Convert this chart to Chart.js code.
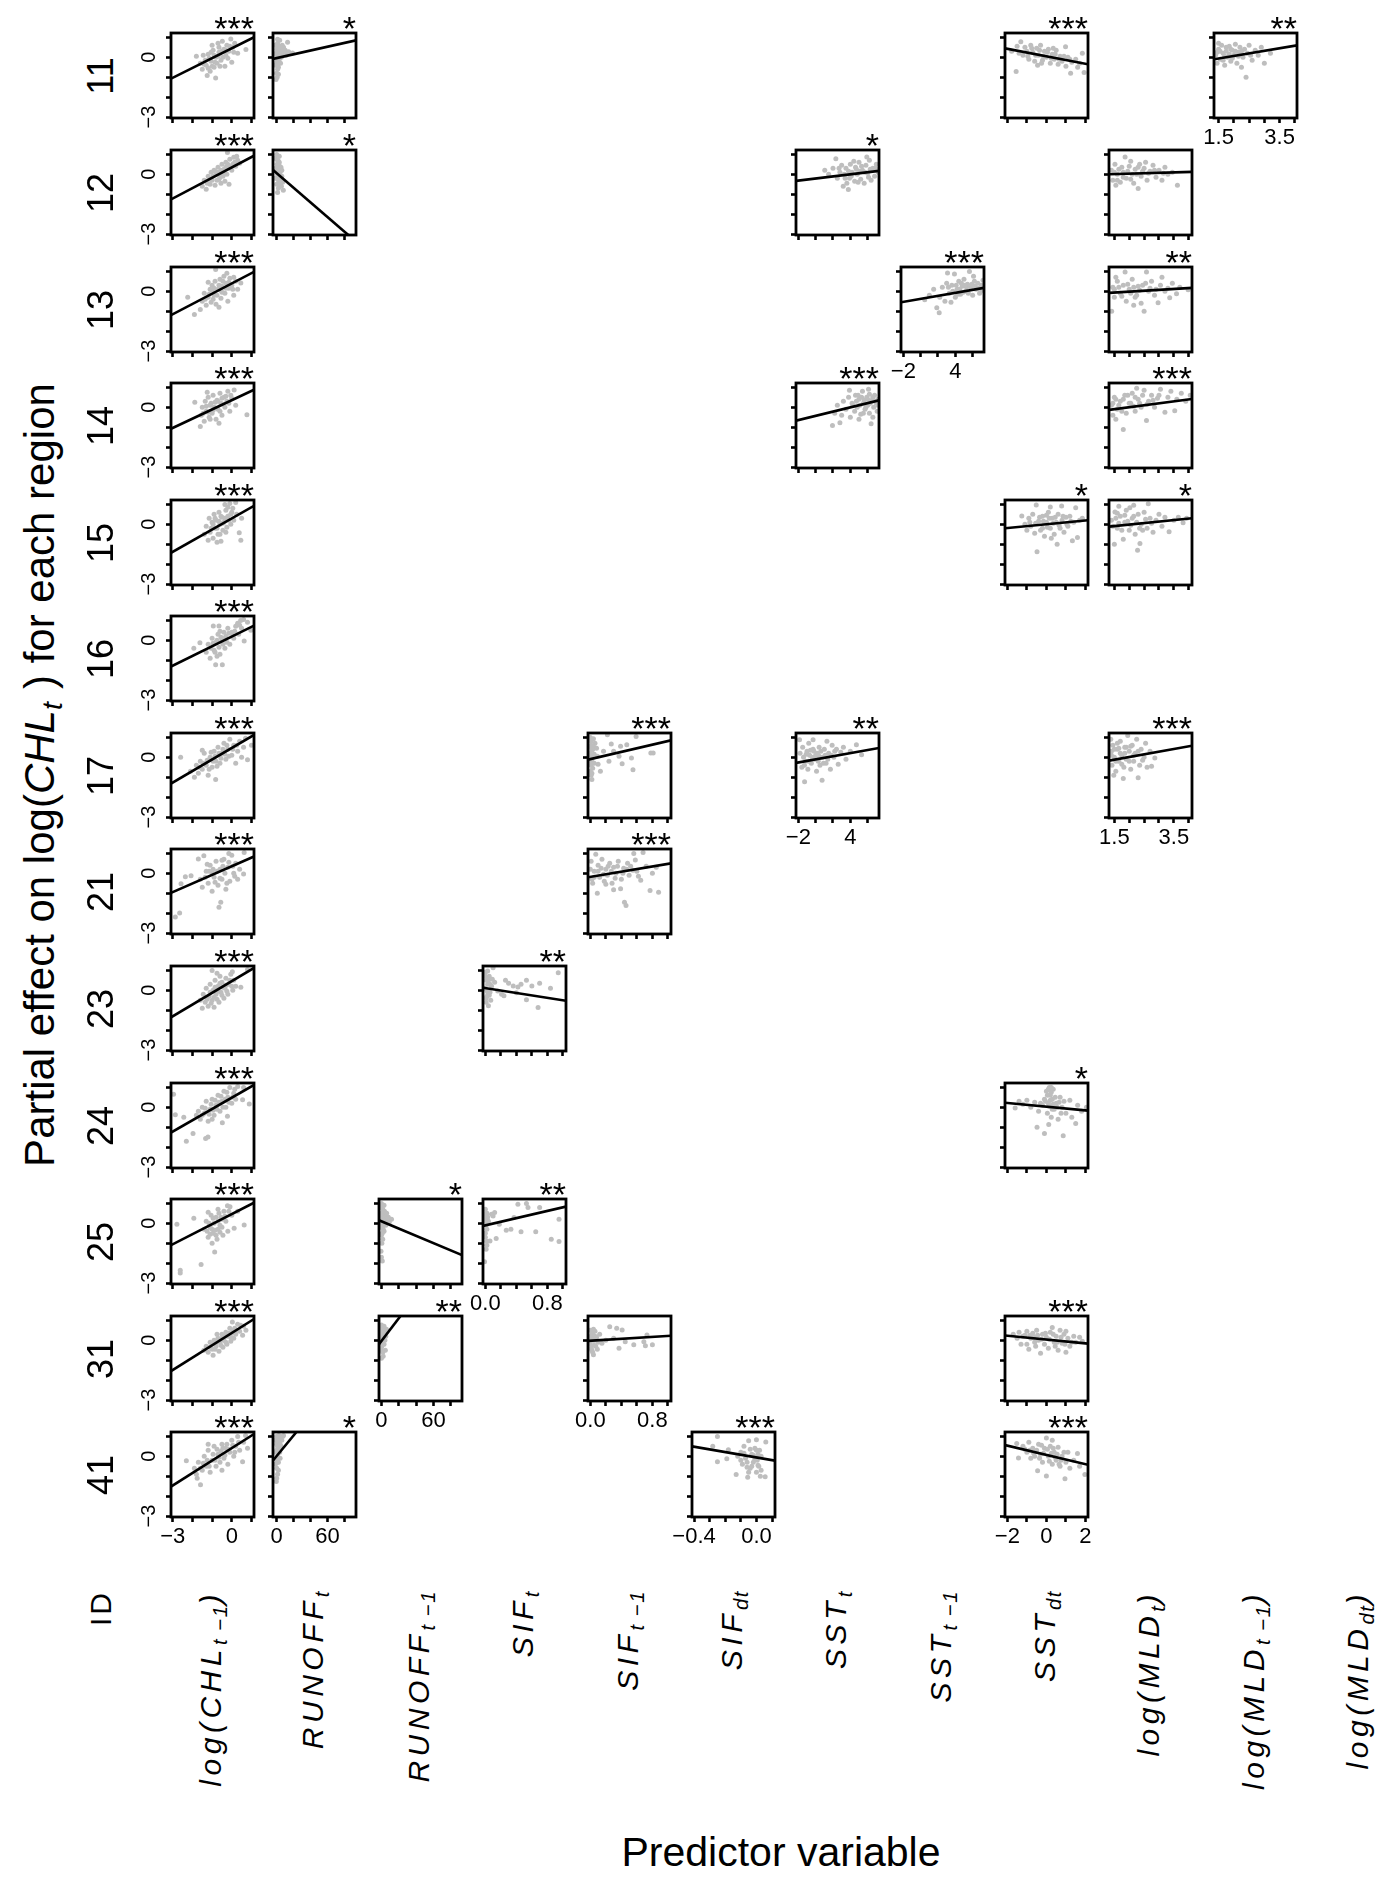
<!DOCTYPE html>
<html>
<head>
<meta charset="utf-8">
<script src="https://cdn.jsdelivr.net/npm/chart.js@4.4.0/dist/chart.umd.min.js"></script>
<style>
  body { margin: 0; background: #fff; }
  #fig { position: relative; width: 1394px; height: 1889px; overflow: hidden;
         font-family: "Liberation Sans", Arial, Helvetica, sans-serif; color: #000; }
  .panel { position: absolute; }
  .lab { position: absolute; white-space: nowrap; line-height: 1; }
  .lab sub { font-size: 68%; vertical-align: -0.28em; letter-spacing: 1.5px; }
</style>
</head>
<body>
<div id="fig"></div>
<script>
// ---------------- data ----------------
const regions = ['11', '12', '13', '14', '15', '16', '17', '21', '23', '24', '25', '31', '41'];
const predictors = [
  'log(CHL<sub>t −1</sub>)', 'RUNOFF<sub>t</sub>', 'RUNOFF<sub>t −1</sub>',
  'SIF<sub>t</sub>', 'SIF<sub>t −1</sub>', 'SIF<sub>dt</sub>',
  'SST<sub>t</sub>', 'SST<sub>t −1</sub>', 'SST<sub>dt</sub>',
  'log(MLD<sub>t</sub>)', 'log(MLD<sub>t −1</sub>)', 'log(MLD<sub>dt</sub>)'
];

const yRange = [-3.05, 1.22];
const yTickValues = [-3, -2, -1, 0, 1];
const yTickText = ['−3', '', '', '0', ''];

const xRange = [[-3.09, 1.13], [-4.4, 93.6], [-2.8, 92.8], [-0.03, 1.04], [-0.03, 1.04], [-0.413, 0.119],
  [-2.27, 7.31], [-2.27, 7.31], [-2.12, 2.13], [1.32, 4.11], [1.35, 4.07]];
const xTickValues = [[-3, -2, -1, 0, 1], [0, 20, 40, 60, 80], [0, 20, 40, 60, 80],
  [0, 0.2, 0.4, 0.6, 0.8, 1], [0, 0.2, 0.4, 0.6, 0.8, 1], [-0.4, -0.3, -0.2, -0.1, 0, 0.1],
  [-2, 0, 2, 4, 6], [-2, 0, 2, 4, 6], [-2, -1, 0, 1, 2],
  [1.5, 2, 2.5, 3, 3.5, 4], [1.5, 2, 2.5, 3, 3.5, 4]];
const xTickText = [['−3', '', '', '0', ''], ['0', '', '', '60', ''], ['0', '', '', '60', ''],
  ['0.0', '', '', '', '0.8', ''], ['0.0', '', '', '', '0.8', ''], ['−0.4', '', '', '', '0.0', ''],
  ['−2', '', '', '4', ''], ['−2', '', '', '4', ''], ['−2', '', '0', '', '2'],
  ['1.5', '', '', '', '3.5', ''], ['1.5', '', '', '', '3.5', '']];

const panelRegion = ['11','11','11','11','12','12','12','12','13','13','13','14','14','14','15','15','15','16',
  '17','17','17','17','21','21','23','23','24','24','25','25','25','31','31','31','31','41','41','41','41'];
const panelPredictor = [1,2,9,11, 1,2,7,10, 1,8,10, 1,7,10, 1,9,10, 1, 1,5,7,10, 1,5, 1,4, 1,9, 1,3,4, 1,3,5,9, 1,2,6,9];
const panelStars = ['***','*','***','**', '***','*','*','', '***','***','**', '***','***','***', '***','*','*', '***',
  '***','***','**','***', '***','***', '***','**', '***','*', '***','*','**', '***','**','','***', '***','*','***','***'];
// fitted line, [x0, y0, x1, y1]
const panelFit = [
  [-3.09,-1.07,1.13,1.01], [-4.4,-0.08,93.6,0.85], [-2.12,0.45,2.13,-0.35], [1.35,-0.1,4.07,0.6],
  [-3.09,-1.26,1.13,0.93], [-4.4,0.21,84.5,-3.05], [-2.27,-0.33,7.31,0.17], [1.32,0.0,4.11,0.12],
  [-3.09,-1.2,1.13,0.98], [-2.27,-0.55,7.31,0.17], [1.32,-0.08,4.11,0.17],
  [-3.09,-1.08,1.13,0.88], [-2.27,-0.67,7.31,0.35], [1.32,-0.13,4.11,0.42],
  [-3.09,-1.43,1.13,0.93], [-2.12,-0.2,2.13,0.2], [1.32,-0.12,4.11,0.3],
  [-3.09,-1.32,1.13,0.74],
  [-3.09,-1.32,1.13,1.12], [-0.03,-0.12,1.04,0.85], [-2.27,-0.28,7.31,0.47], [1.32,-0.17,4.11,0.58],
  [-3.09,-0.98,1.13,0.84], [-0.03,-0.2,1.04,0.5],
  [-3.09,-1.36,1.13,1.12], [-0.03,0.13,1.04,-0.53],
  [-3.09,-1.27,1.13,1.12], [-2.12,0.23,2.13,-0.17],
  [-3.09,-1.1,1.13,1.03], [-2.8,0.15,92.8,-1.6], [-0.03,-0.13,1.04,0.84],
  [-3.09,-1.55,1.13,1.07], [-2.8,-0.2,22,1.22], [-0.03,-0.03,1.04,0.23], [-2.12,0.24,2.13,-0.17],
  [-3.09,-1.52,1.13,1.12], [-4.4,-0.21,23.3,1.22], [-0.413,0.5,0.119,-0.22], [-2.12,0.56,2.13,-0.43]
];

// partial residuals, [x, y]
const r11c1 = [[-1.8,0.05],[-1.6,-0.3],[-1.5,-0.6],[-1.45,0.1],[-1.3,-0.4],[-1.25,-0.92],[-1.2,0.15],[-1.1,-0.7],[-1.05,-0.2],[-0.95,0.35],[-0.9,-0.5],[-0.82,-1.04],[-0.8,0.0],[-0.75,-0.3],[-0.65,0.5],[-0.6,0.2],[-0.55,-0.15],[-0.48,0.8],[-0.4,0.4],[-0.35,-0.45],[-0.3,0.1],[-0.25,0.6],[-0.15,0.3],[-0.05,0.92],[0.0,-0.25],[0.05,0.5],[0.15,0.7],[0.3,0.2],[0.72,0.39],[-1.0,0.6],[-0.7,0.7],[-1.35,-0.15],
  [-1.4,-0.35],[-1.2,-0.55],[-1.15,-0.05],[-1.0,-0.45],[-0.9,0.1],[-0.85,-0.25],[-0.7,0.05],[-0.6,-0.45],[-0.5,0.3],[-0.45,0.0],[-0.3,0.35],[-0.2,-0.05],[-0.1,0.55],[0.1,0.25],[-0.65,0.25],[-1.05,0.25]];
const r11c2 = [[-2,0.6],[-1,0.2],[0,0.4],[0.5,-0.2],[1,0.7],[1.5,0.1],[2,-0.5],[2.5,0.3],[3,-0.1],[3,0.55],[4,0.2],[4.5,-0.3],[5,0.45],[5.5,0.0],[6,0.3],[7,0.15],[8,0.5],[9,0.25],[10,0.35],[12.8,0.75],[11,0.1],[14,0.28],[18.6,0.22],[0,-0.8],[1,-0.6],[-0.8,-1.12],[0.5,-1.0],[2,-0.85],[-1.5,-0.4],[6.5,0.6],[3.5,0.85],[1,0.9],
  [0,0.1],[1,0.3],[2,0.5],[1.5,-0.3],[3,0.3],[0.5,0.6],[2.5,-0.1],[4,0.5],[0,-0.3],[1,-0.4],[5,0.1],[3.5,0.05]];
const r11c9 = [[-1.78,0.3],[-1.55,-0.72],[-1.5,0.55],[-1.31,0.78],[-1.2,0.1],[-1.1,0.5],[-1.0,0.3],[-0.9,-0.1],[-0.8,0.6],[-0.7,0.25],[-0.6,-0.2],[-0.5,0.45],[-0.4,0.1],[-0.3,0.6],[-0.2,-0.15],[-0.1,0.3],[0.0,0.0],[0.1,0.4],[0.2,-0.3],[0.3,0.15],[0.4,-0.1],[0.5,0.35],[0.6,-0.35],[0.7,0.05],[0.8,-0.2],[0.98,0.53],[1.0,-0.45],[1.1,0.0],[1.24,-0.8],[1.3,-0.25],[1.5,-0.1],[1.6,-0.5],[1.84,0.2],[1.93,-0.77],[1.7,-0.3],[-0.45,-0.4],
  [-1.4,0.2],[-0.95,0.05],[-0.75,0.45],[-0.55,0.1],[-0.35,0.35],[-0.15,0.05],[0.05,0.25],[0.25,-0.05],[0.45,0.15],[0.65,-0.1],[0.9,0.05],[1.2,-0.1],[0.35,0.45],[-0.25,-0.3]];
const r11c11 = [[1.4,0.1],[1.45,-0.3],[1.5,0.4],[1.55,-0.1],[1.6,0.6],[1.65,0.2],[1.7,-0.4],[1.75,0.3],[1.8,0.0],[1.85,0.55],[1.9,-0.2],[1.95,0.35],[2.0,0.1],[2.05,0.65],[2.1,-0.3],[2.15,0.25],[2.2,0.5],[2.3,0.0],[2.35,0.4],[2.4,-1.0],[2.45,0.2],[2.5,0.6],[2.6,-0.15],[2.7,0.35],[2.8,0.1],[2.9,0.5],[3.0,-0.3],[3.2,0.2],[1.5,0.7],[2.25,-0.5],
  [1.45,0.25],[1.55,0.3],[1.65,-0.15],[1.75,0.5],[1.85,0.15],[1.95,-0.05],[2.05,0.3],[2.15,0.05],[2.25,0.3],[2.55,0.1],[1.7,0.05],[1.9,0.4]];
const r12c1 = [[-1.5,-0.6],[-1.4,-0.3],[-1.3,-0.75],[-1.2,-0.1],[-1.1,-0.5],[-1.05,0.1],[-1.0,-0.3],[-0.9,0.2],[-0.85,-0.55],[-0.8,0.0],[-0.7,0.35],[-0.65,-0.25],[-0.6,0.1],[-0.5,0.5],[-0.45,-0.1],[-0.4,0.25],[-0.3,0.6],[-0.25,0.0],[-0.22,1.09],[-0.15,0.35],[-0.14,-0.5],[-0.1,0.75],[0.0,0.2],[0.05,0.5],[0.1,0.85],[0.2,0.4],[0.3,0.7],[0.4,0.55],[-0.55,-0.45],[-0.35,-0.35],
  [-1.25,-0.45],[-1.15,-0.25],[-0.95,-0.1],[-0.75,-0.3],[-0.7,0.1],[-0.55,0.2],[-0.4,0.0],[-0.3,0.35],[-0.2,0.5],[-0.05,0.35],[0.15,0.6],[-0.85,0.15],[-0.6,-0.15],[0.25,0.9]];
const r12c2 = [[-2,0.8],[-1,0.3],[0,1.0],[0.5,0.5],[1,0.0],[1.5,0.7],[2,-0.3],[2.5,0.2],[3,0.6],[3.5,-0.5],[4,0.1],[4.5,-0.2],[5,0.35],[5.5,-0.6],[6,-0.1],[7,-0.4],[7.8,-0.8],[0,-0.5],[1,-0.92],[2,-0.7],[-1.5,-0.2],[3,0.9],[6,0.2],[1,0.4],
  [0.5,0.2],[1.5,-0.2],[2.5,0.5],[0,0.3],[3,-0.1],[1,0.7],[4,-0.5],[2,0.3]];
const r12c7 = [[1.05,0.2],[1.5,0.0],[2.0,0.3],[2.33,0.78],[2.5,-0.2],[2.8,0.1],[3.0,0.45],[3.18,-0.6],[3.3,0.0],[3.5,0.3],[3.77,-0.77],[3.9,-0.2],[4.0,0.5],[4.2,0.1],[4.5,-0.35],[4.6,0.35],[4.8,0.0],[5.0,0.6],[5.2,-0.25],[5.4,0.2],[5.6,-0.45],[5.8,0.45],[6.0,0.05],[6.2,0.7],[6.4,-0.3],[6.6,0.3],[6.8,-0.1],[7.0,0.5],[7.2,0.1],[5.9,0.87],[4.4,0.65],[3.6,-0.45],
  [2.7,0.3],[3.4,-0.2],[4.1,-0.1],[4.7,0.25],[5.1,0.15],[5.3,0.4],[5.7,0.1],[6.1,-0.15],[6.3,0.25],[6.9,0.3],[4.9,-0.4],[3.8,0.15]];
const r12c10 = [[1.4,0.2],[1.45,-0.3],[1.52,0.5],[1.6,0.0],[1.7,-0.4],[1.75,0.35],[1.8,0.1],[1.86,0.87],[1.9,-0.2],[2.0,0.4],[2.1,0.0],[2.15,-0.45],[2.2,0.25],[2.3,-0.72],[2.35,0.5],[2.4,-0.1],[2.5,0.3],[2.6,-0.3],[2.7,0.15],[2.8,0.45],[2.9,-0.15],[3.0,0.2],[3.1,-0.3],[3.2,0.35],[3.3,0.0],[3.62,-0.55],[3.45,0.1],[2.05,0.65],[1.55,-0.55],[2.55,0.6],
  [1.5,0.1],[1.65,0.25],[1.8,-0.15],[1.95,0.15],[2.05,-0.25],[2.25,0.0],[2.45,0.15],[2.65,0.05],[2.85,0.2],[3.15,0.05],[1.6,-0.3],[2.3,0.35]];
const r13c1 = [[-2.24,-0.3],[-1.9,-1.17],[-1.6,-0.92],[-1.5,-0.5],[-1.4,-0.1],[-1.3,-0.7],[-1.2,-0.3],[-1.1,0.1],[-1.05,-0.55],[-1.0,0.3],[-0.9,-0.2],[-0.85,0.5],[-0.82,1.09],[-0.8,-0.65],[-0.7,0.1],[-0.6,0.6],[-0.55,-0.35],[-0.5,0.25],[-0.4,0.75],[-0.35,-0.1],[-0.3,0.4],[-0.2,-0.5],[-0.15,0.15],[-0.1,0.65],[0.0,0.3],[0.1,-0.2],[0.2,0.5],[0.3,0.1],[0.46,0.42],[-0.65,-0.8],[-1.2,0.45],[-0.25,0.9],
  [-1.35,-0.4],[-1.15,-0.15],[-0.95,-0.4],[-0.9,0.15],[-0.75,-0.2],[-0.65,0.3],[-0.5,-0.05],[-0.45,0.5],[-0.3,0.15],[-0.15,0.45],[0.05,0.1],[-0.55,0.05],[-1.0,0.05],[0.1,0.7]];
const r13c8 = [[0.47,-0.42],[1.0,-0.2],[1.5,0.1],[1.86,-0.83],[2.14,-1.08],[2.2,-0.3],[2.5,0.2],[2.8,-0.5],[3.0,0.4],[3.1,0.92],[3.3,-0.1],[3.6,0.3],[3.9,0.87],[4.0,-0.3],[4.2,0.1],[4.4,0.5],[4.6,-0.15],[4.8,0.25],[5.0,0.6],[5.2,0.0],[5.4,0.35],[5.63,1.0],[5.8,0.2],[6.0,-0.2],[6.2,0.5],[6.4,0.1],[6.6,0.4],[6.8,-0.1],[7.0,0.3],[7.2,0.55],[3.5,-0.55],[6.1,0.75],
  [3.2,0.2],[3.7,0.0],[4.1,0.3],[4.3,-0.15],[4.7,0.4],[4.9,-0.05],[5.3,0.2],[5.5,-0.1],[5.9,0.35],[6.3,0.25],[6.7,0.15],[7.1,0.05],[4.5,0.1],[5.1,0.3]];
const r13c10 = [[1.41,-1.0],[1.45,0.2],[1.5,-0.3],[1.6,0.5],[1.7,-0.1],[1.8,0.3],[1.86,0.97],[1.9,-0.5],[2.0,0.1],[2.1,0.6],[2.2,-0.3],[2.3,0.25],[2.4,-0.6],[2.5,-1.0],[2.55,0.4],[2.58,0.97],[2.65,0.0],[2.75,0.5],[2.85,-0.2],[2.97,-0.58],[3.05,0.3],[3.2,0.0],[3.36,-0.33],[3.45,0.4],[3.59,-0.13],[3.7,0.2],[3.98,0.08],[2.15,-0.7],[1.55,0.7],[3.1,0.7],
  [1.5,0.1],[1.65,0.2],[1.75,-0.25],[1.95,0.35],[2.05,-0.1],[2.15,0.2],[2.35,0.05],[2.45,0.3],[2.7,0.15],[2.9,0.1],[3.3,0.15],[2.25,-0.2]];
const r14c1 = [[-1.88,0.25],[-1.6,-0.97],[-1.55,-0.4],[-1.5,0.0],[-1.4,-0.7],[-1.35,0.3],[-1.3,-0.2],[-1.2,0.5],[-1.15,-0.5],[-1.1,0.1],[-1.0,-0.3],[-0.95,0.6],[-0.9,0.0],[-0.8,-0.6],[-0.75,0.35],[-0.7,-0.1],[-0.6,0.7],[-0.55,0.2],[-0.5,-0.4],[-0.4,0.5],[-0.35,0.0],[-0.25,0.3],[-0.2,0.8],[-0.1,-0.2],[0.0,0.45],[0.12,0.87],[0.2,0.1],[0.77,-0.37],[-1.25,0.75],[-0.65,-0.8],
  [-1.45,-0.3],[-1.3,0.05],[-1.2,-0.25],[-1.05,0.2],[-0.95,-0.15],[-0.85,0.25],[-0.7,0.3],[-0.6,-0.2],[-0.45,0.15],[-0.3,0.55],[-0.15,0.2],[-0.05,0.6],[-1.1,-0.6],[-0.5,0.45]];
const r14c7 = [[1.94,-0.92],[2.2,-0.3],[2.5,0.1],[2.8,-0.78],[3.0,-0.4],[3.2,0.3],[3.5,-0.1],[3.8,0.5],[4.0,-0.5],[4.2,0.2],[4.5,-0.2],[4.6,0.6],[4.8,0.0],[5.0,0.4],[5.2,-0.35],[5.4,0.8],[5.5,0.2],[5.7,-0.1],[5.9,0.5],[6.0,0.1],[6.2,-0.3],[6.4,-0.83],[6.5,0.35],[6.7,0.0],[6.8,0.6],[7.0,0.2],[7.1,-0.2],[7.2,0.4],[6.1,0.9],[5.0,-0.6],[6.6,-0.5],[3.9,0.85],
  [4.3,0.1],[4.7,0.3],[5.1,0.1],[5.3,0.5],[5.6,0.35],[5.8,0.0],[6.0,0.4],[6.3,0.2],[6.6,0.5],[6.9,0.3],[7.2,0.1],[5.5,-0.3],[6.2,0.65],[4.9,0.6]];
const r14c10 = [[1.4,0.1],[1.45,-0.4],[1.5,0.5],[1.6,-0.1],[1.7,0.3],[1.8,-1.12],[1.85,0.6],[1.9,-0.3],[2.0,0.2],[2.1,0.7],[2.2,-0.2],[2.3,0.4],[2.4,0.0],[2.5,0.85],[2.58,-0.67],[2.65,0.3],[2.75,0.6],[2.85,0.0],[2.95,0.45],[3.05,0.9],[3.2,-0.25],[3.3,0.5],[3.53,-0.17],[3.6,0.4],[3.75,0.7],[3.9,0.3],[4.05,0.6],[1.55,-0.6],[2.25,0.95],[3.4,0.8],
  [1.45,0.2],[1.55,0.4],[1.65,0.1],[1.8,0.4],[1.95,0.6],[2.05,0.2],[2.2,0.5],[2.35,0.2],[2.45,0.6],[2.6,0.15],[2.8,0.35],[3.0,0.6],[1.75,-0.2],[2.15,0.05]];
const r15c1 = [[-1.4,-0.5],[-1.3,-0.1],[-1.2,-0.8],[-1.15,0.3],[-1.1,-0.4],[-1.0,0.1],[-0.95,-0.7],[-0.9,0.5],[-0.85,-0.2],[-0.8,0.2],[-0.7,-0.5],[-0.65,0.6],[-0.6,0.0],[-0.55,-0.85],[-0.5,0.35],[-0.45,-0.3],[-0.4,0.1],[-0.3,0.7],[-0.25,-0.15],[-0.2,0.4],[-0.1,1.05],[-0.05,0.0],[0.0,0.6],[0.1,0.2],[0.2,1.1],[0.25,0.5],[0.38,-0.42],[0.46,-0.8],[0.5,0.3],[-0.35,1.0],[-0.75,-0.9],
  [-1.05,-0.2],[-0.95,0.0],[-0.85,0.3],[-0.75,-0.2],[-0.65,0.15],[-0.55,0.4],[-0.45,0.05],[-0.35,0.3],[-0.3,-0.4],[-0.15,0.2],[-0.05,0.5],[0.05,0.8],[-0.6,-0.5],[-0.2,0.85]];
const r15c9 = [[-1.26,0.42],[-1.1,0.0],[-1.0,-0.3],[-0.9,0.3],[-0.8,-0.1],[-0.7,0.5],[-0.6,-0.45],[-0.52,0.97],[-0.48,-1.38],[-0.4,0.15],[-0.3,-0.3],[-0.2,0.4],[-0.1,-0.6],[0.0,0.1],[0.1,0.6],[0.2,0.87],[0.2,-0.2],[0.3,0.3],[0.4,-0.5],[0.5,0.1],[0.55,-1.0],[0.6,0.5],[0.7,-0.2],[0.78,0.92],[0.8,0.2],[0.9,-0.4],[1.0,0.35],[1.1,-0.1],[1.2,0.4],[1.33,-0.83],[1.4,0.1],[1.5,0.83],[1.59,-0.67],[1.7,0.2],[1.84,0.3],[0.25,-0.7],
  [-0.85,0.1],[-0.55,0.05],[-0.35,0.35],[-0.15,0.15],[0.05,-0.15],[0.15,0.3],[0.35,0.05],[0.45,0.35],[0.65,-0.05],[0.85,0.4],[1.05,0.0],[1.25,0.15],[0.0,0.45],[-0.2,-0.2]];
const r15c10 = [[1.4,0.2],[1.5,-1.0],[1.52,0.62],[1.6,-0.2],[1.7,0.4],[1.8,-0.75],[1.85,0.1],[1.9,0.7],[2.0,-0.3],[2.02,0.83],[2.1,0.3],[2.2,-0.5],[2.28,-1.3],[2.3,0.5],[2.36,-0.97],[2.4,0.0],[2.5,0.6],[2.6,-0.2],[2.64,1.03],[2.7,0.3],[2.8,-0.4],[2.9,0.2],[3.0,0.5],[3.1,-0.1],[3.2,0.35],[3.34,-0.37],[3.5,0.2],[3.65,0.35],[3.81,0.08],[3.93,0.3],[1.65,0.9],[2.15,0.95],
  [1.45,-0.1],[1.55,0.3],[1.65,0.05],[1.75,-0.3],[1.85,0.45],[1.95,0.15],[2.05,-0.05],[2.15,0.4],[2.25,0.1],[2.45,-0.3],[2.55,0.25],[2.75,0.05],[1.6,0.55],[2.35,-0.2]];
const r16c1 = [[-1.93,-0.4],[-1.62,-0.12],[-1.3,-0.6],[-1.2,-0.2],[-1.1,-0.9],[-1.0,0.1],[-0.94,0.72],[-0.9,-0.5],[-0.82,-1.23],[-0.8,-0.1],[-0.7,0.3],[-0.65,0.72],[-0.6,-0.7],[-0.5,0.0],[-0.48,-1.23],[-0.4,0.4],[-0.35,-0.4],[-0.3,0.2],[-0.2,0.6],[-0.1,-0.2],[0.0,0.4],[0.1,0.1],[0.2,0.7],[0.3,0.85],[0.35,0.3],[0.45,1.0],[0.5,0.6],[0.6,1.05],[0.63,-0.03],[0.8,0.9],[0.97,0.5],[-0.75,-0.8],
  [-1.05,-0.4],[-0.95,-0.15],[-0.85,-0.6],[-0.75,0.0],[-0.65,-0.35],[-0.55,0.15],[-0.45,-0.2],[-0.35,0.1],[-0.25,-0.1],[-0.15,0.35],[0.05,0.2],[0.15,0.45],[0.4,0.75],[-0.6,0.45]];
const r17c1 = [[-2.6,0.0],[-2.1,-0.7],[-1.9,-1.0],[-1.8,-0.4],[-1.7,-0.8],[-1.6,-0.2],[-1.5,-0.6],[-1.4,0.2],[-1.3,-0.4],[-1.2,-0.9],[-1.1,0.0],[-1.0,-0.5],[-0.9,0.3],[-0.82,-1.12],[-0.8,-0.2],[-0.7,0.5],[-0.6,-0.3],[-0.5,0.2],[-0.4,0.7],[-0.3,-0.1],[-0.2,0.4],[-0.1,0.9],[0.0,0.1],[0.1,0.6],[0.2,-0.3],[0.3,0.3],[0.4,0.8],[0.5,0.0],[0.6,0.5],[0.8,-0.12],[1.0,0.6],[0.7,0.95],[-1.5,0.35],
  [-1.65,-0.5],[-1.45,-0.3],[-1.25,-0.15],[-1.15,-0.6],[-0.95,-0.2],[-0.85,0.05],[-0.75,-0.45],[-0.65,0.2],[-0.55,-0.05],[-0.45,0.4],[-0.35,0.15],[-0.25,0.6],[-0.15,0.05],[0.05,0.4],[0.25,0.6],[-1.05,0.25]];
const r17c5 = [[0.0,1.0],[0.01,0.6],[0.0,0.2],[0.02,-0.1],[0.01,-0.4],[0.0,-0.7],[0.02,-1.12],[0.03,0.4],[0.04,0.93],[0.02,0.0],[0.01,-0.9],[0.05,-0.3],[0.22,1.13],[0.27,0.67],[0.39,0.55],[0.47,0.63],[0.37,0.05],[0.24,-0.2],[0.13,-0.7],[0.41,-0.33],[0.53,-0.03],[0.55,-0.62],[0.59,1.05],[0.78,0.22],[0.81,0.22],[0.17,0.3],[0.3,0.3],[0.09,0.05],[0.06,0.7],[0.1,-0.35],
  [0.0,0.5],[0.01,0.8],[0.02,0.35],[0.0,-0.2],[0.03,-0.55],[0.01,0.1],[0.04,0.55],[0.02,-0.8],[0.05,0.15],[0.08,0.45]];
const r17c7 = [[-1.86,0.88],[-1.8,0.2],[-1.6,-0.5],[-1.5,0.5],[-1.28,-1.23],[-1.2,-0.2],[-1.0,0.3],[-0.9,-0.6],[-0.7,0.1],[-0.5,-0.3],[-0.3,0.88],[-0.3,0.4],[-0.1,-0.1],[0.1,-0.7],[0.2,0.2],[0.4,0.5],[0.5,-0.4],[0.74,-1.15],[0.8,0.0],[1.0,0.4],[1.2,-0.3],[1.5,0.2],[1.7,-0.6],[1.9,0.6],[2.1,0.0],[2.4,0.4],[2.6,-0.35],[2.9,0.25],[3.2,0.5],[3.5,-0.1],[4.0,0.3],[4.7,0.63],[5.3,0.13],[-0.8,0.7],[1.3,0.8],
  [-1.4,0.0],[-1.1,0.15],[-0.8,-0.2],[-0.6,0.35],[-0.4,0.0],[-0.2,0.3],[0.0,0.1],[0.3,-0.2],[0.6,0.3],[0.9,-0.3],[1.1,0.1],[1.4,-0.1],[1.8,0.1],[2.2,0.3],[0.4,0.05],[-1.3,-0.4]];
const r17c10 = [[1.38,0.9],[1.4,0.3],[1.42,-0.4],[1.45,0.6],[1.5,0.0],[1.55,-0.7],[1.6,0.4],[1.65,-0.2],[1.7,0.8],[1.75,0.1],[1.8,-1.07],[1.82,-0.5],[1.85,0.5],[1.9,-0.1],[1.95,1.1],[2.0,0.3],[2.05,-0.6],[2.1,0.6],[2.15,-0.2],[2.2,0.2],[2.25,0.9],[2.3,-1.03],[2.35,-0.4],[2.4,0.4],[2.5,0.0],[2.55,0.7],[2.6,-0.5],[2.75,-0.45],[2.86,-0.03],[2.7,0.3],[1.48,-0.9],
  [1.4,0.1],[1.5,0.4],[1.55,-0.2],[1.6,0.7],[1.7,0.2],[1.75,-0.35],[1.85,0.2],[1.9,0.5],[2.0,-0.2],[2.05,0.55],[2.15,0.1],[2.3,0.3],[2.45,-0.15],[1.65,0.45]];
const r21c1 = [[-2.87,-2.2],[-2.65,-2.0],[-2.58,-0.53],[-2.36,-0.17],[-2.07,-0.12],[-1.7,0.72],[-1.6,-0.3],[-1.5,-0.7],[-1.42,0.88],[-1.3,0.1],[-1.2,-0.5],[-1.1,0.4],[-1.0,-0.9],[-0.9,-0.2],[-0.8,0.6],[-0.7,-0.6],[-0.65,-1.7],[-0.6,0.2],[-0.56,-1.45],[-0.5,-0.3],[-0.4,0.7],[-0.3,-0.8],[-0.2,0.3],[-0.1,-0.4],[0.0,0.9],[0.1,0.0],[0.2,0.5],[0.3,-0.3],[0.4,0.2],[0.6,-0.03],[0.63,1.05],[-0.15,1.0],[-1.0,0.05],
  [-1.35,-0.2],[-1.15,0.1],[-0.95,0.2],[-0.85,-0.45],[-0.75,0.1],[-0.6,-0.25],[-0.45,0.35],[-0.35,0.0],[-0.25,-0.5],[-0.15,0.55],[0.05,0.35],[0.15,-0.15],[-0.5,0.65],[-1.25,0.45]];
const r21c5 = [[0.0,0.2],[0.02,-0.3],[0.01,0.6],[0.03,-0.5],[0.05,0.1],[0.09,-1.0],[0.1,0.4],[0.12,-0.2],[0.15,0.7],[0.18,-0.4],[0.2,0.2],[0.22,-0.1],[0.25,0.5],[0.28,-0.5],[0.3,-0.83],[0.3,0.3],[0.33,0.0],[0.36,0.6],[0.39,-0.78],[0.4,-0.3],[0.43,0.25],[0.44,-1.45],[0.46,-1.62],[0.48,0.5],[0.5,-0.1],[0.56,1.0],[0.58,0.67],[0.6,0.1],[0.65,-0.35],[0.68,1.05],[0.72,0.35],[0.77,-0.87],[0.8,0.0],[0.88,-0.95],[0.85,0.3],[0.07,0.95],
  [0.05,-0.2],[0.1,0.1],[0.14,0.25],[0.17,-0.05],[0.23,0.35],[0.27,0.1],[0.32,-0.25],[0.35,0.35],[0.42,0.0],[0.47,0.2],[0.52,0.35],[0.62,-0.15],[0.2,-0.55],[0.55,0.15]];
const r23c1 = [[-1.6,-0.5],[-1.5,-0.9],[-1.45,-0.2],[-1.35,-0.6],[-1.3,0.1],[-1.2,-0.8],[-1.15,-0.3],[-1.1,0.3],[-1.0,1.0],[-1.0,-0.5],[-0.95,0.0],[-0.9,-0.85],[-0.85,0.5],[-0.8,-0.2],[-0.7,0.2],[-0.65,-0.6],[-0.6,0.7],[-0.55,-0.1],[-0.5,0.4],[-0.4,-0.4],[-0.35,0.1],[-0.3,0.6],[-0.2,-0.2],[-0.15,0.3],[-0.05,0.8],[0.03,0.93],[0.05,0.0],[0.1,0.5],[0.2,0.2],[0.46,0.15],[0.8,1.05],[-0.75,0.85],
  [-1.25,-0.45],[-1.1,-0.1],[-1.05,-0.65],[-0.9,-0.35],[-0.85,0.15],[-0.75,-0.45],[-0.7,-0.05],[-0.6,0.35],[-0.5,-0.25],[-0.45,0.15],[-0.3,0.25],[-0.25,-0.05],[-0.1,0.5],[0.0,0.2]];
const r23c4 = [[0.0,0.9],[0.01,0.5],[0.0,0.1],[0.02,-0.3],[0.01,-0.6],[0.03,0.3],[0.04,-0.78],[0.05,0.7],[0.06,-0.1],[0.08,0.2],[0.03,0.97],[0.07,-0.5],[0.1,1.13],[0.26,0.5],[0.36,0.22],[0.42,0.17],[0.46,0.3],[0.53,0.5],[0.6,0.22],[0.4,-0.12],[0.24,-0.28],[0.53,-0.48],[0.68,-0.87],[0.84,0.1],[0.94,0.88],[0.21,-0.2],[0.16,-0.03],[0.12,0.4],[0.3,0.35],[0.7,0.35],
  [0.0,0.7],[0.02,0.0],[0.01,-0.4],[0.04,0.5],[0.05,-0.25],[0.06,0.3],[0.03,-0.1],[0.09,0.55]];
const r24c1 = [[-2.96,0.66],[-2.87,-0.38],[-2.44,-0.5],[-2.31,-1.7],[-1.97,-1.32],[-1.33,-1.57],[-1.21,-1.49],[-1.8,-0.4],[-1.6,-0.6],[-1.5,0.0],[-1.4,-0.3],[-1.3,0.3],[-1.2,-0.7],[-1.1,-0.1],[-1.0,0.4],[-0.9,-0.4],[-0.8,0.1],[-0.7,0.6],[-0.6,-0.2],[-0.5,0.3],[-0.48,-0.78],[-0.4,0.8],[-0.3,0.0],[-0.22,-0.45],[-0.2,0.5],[-0.1,1.0],[0.0,0.2],[0.1,0.7],[0.2,0.4],[0.3,1.05],[0.55,0.38],[0.89,0.17],[0.6,1.0],[-1.0,-0.6],
  [-1.7,-0.2],[-1.5,-0.4],[-1.35,-0.05],[-1.15,-0.35],[-1.05,0.15],[-0.95,-0.15],[-0.85,0.35],[-0.75,-0.1],[-0.65,0.25],[-0.55,0.55],[-0.45,0.0],[-0.35,0.4],[-0.15,0.25],[0.05,0.5],[0.15,0.9],[-0.25,0.75]];
const r24c9 = [[-1.6,-0.03],[-1.4,0.3],[-1.2,0.15],[-1.0,0.35],[-0.8,0.0],[-0.6,0.25],[-0.48,-1.0],[-0.4,-0.2],[-0.2,0.1],[-0.1,-1.32],[-0.1,0.4],[0.0,0.8],[0.05,-0.3],[0.1,0.2],[0.12,-0.87],[0.15,1.0],[0.2,0.6],[0.25,-0.5],[0.3,0.4],[0.35,0.9],[0.4,-0.1],[0.5,0.2],[0.6,-0.6],[0.7,0.5],[0.8,0.0],[0.86,-1.43],[1.0,-0.3],[1.2,0.35],[1.3,-0.5],[1.5,-0.82],[1.6,0.1],[1.8,-0.2],[2.05,0.0],[0.25,0.75],
  [-0.05,0.3],[0.05,0.6],[0.15,0.05],[0.2,0.35],[0.3,-0.1],[0.35,0.15],[0.45,0.5],[0.55,0.0],[0.65,0.25],[0.1,0.9],[0.25,1.0],[0.9,0.3],[-0.3,0.2],[0.75,-0.3]];
const r25c1 = [[-2.79,-0.05],[-2.62,-2.36],[-2.62,-2.5],[-1.93,0.25],[-1.56,-2.07],[-1.4,-0.3],[-1.3,0.1],[-1.2,-0.7],[-1.1,-0.2],[-1.05,0.4],[-1.0,-1.0],[-0.95,-0.5],[-0.9,0.0],[-0.87,-1.44],[-0.8,0.3],[-0.75,-0.8],[-0.7,-0.3],[-0.65,0.5],[-0.6,-0.1],[-0.5,0.2],[-0.45,-0.6],[-0.4,0.6],[-0.3,0.1],[-0.22,0.88],[-0.2,-0.4],[-0.09,0.83],[0.0,0.4],[0.12,-0.25],[0.3,0.6],[0.63,-0.08],[-1.2,0.55],
  [-1.25,-0.4],[-1.15,0.0],[-1.0,-0.3],[-0.95,0.25],[-0.85,-0.35],[-0.8,-0.6],[-0.7,0.1],[-0.6,-0.45],[-0.55,0.3],[-0.5,-0.2],[-0.35,0.35],[-0.15,0.6],[-0.7,0.7],[-1.1,-0.55]];
const r25c3 = [[-2,0.8],[-1,0.3],[0,1.0],[0.5,0.5],[1,-0.2],[1.5,0.7],[2,0.1],[2.5,0.45],[3,-0.4],[3.5,0.6],[4,0.2],[5,0.35],[6,0.5],[7,0.15],[8,0.3],[9,0.05],[11.6,0.2],[0,-0.6],[0.5,-1.0],[-0.5,-1.4],[1,-1.9],[0,-1.7],[1.5,-0.8],[-1.5,0.0],[3,0.9],[5,-0.1],[2,-0.3],
  [0,0.3],[0.5,0.0],[1,0.5],[1.5,0.2],[2,0.6],[0,-0.2],[1,-0.5],[0.5,0.8]];
const r25c4 = [[0.0,0.7],[0.0,0.3],[0.01,-0.1],[0.0,-0.5],[0.02,-0.9],[0.01,-1.3],[-0.01,-1.93],[0.02,0.5],[0.08,0.45],[0.12,0.54],[0.18,-0.05],[0.27,-0.35],[0.33,-0.3],[0.46,-0.42],[0.53,0.99],[0.55,0.79],[0.7,0.79],[0.65,-0.42],[0.85,-0.8],[0.95,-0.92],[0.95,0.2],[0.14,-0.76],[0.06,-0.89],[0.1,0.37],[0.42,0.96],[0.37,0.29],[0.04,0.1],
  [0.0,0.1],[0.01,0.5],[0.02,-0.3],[0.0,-0.7],[0.03,0.3],[0.02,-1.1]];
const r31c1 = [[-1.42,-0.5],[-1.3,-0.3],[-1.2,-0.6],[-1.1,-0.1],[-1.0,-0.45],[-0.95,-0.75],[-0.9,0.0],[-0.8,-0.3],[-0.7,0.1],[-0.65,-0.55],[-0.6,-0.1],[-0.5,0.3],[-0.45,-0.35],[-0.4,0.0],[-0.3,0.4],[-0.25,-0.2],[-0.2,0.2],[-0.1,0.6],[-0.05,-0.05],[0.0,0.35],[0.03,0.92],[0.1,0.1],[0.15,0.6],[0.2,0.3],[0.3,0.8],[0.4,0.45],[0.55,0.25],[0.6,0.7],[0.72,0.5],[-0.75,0.3],
  [-1.1,-0.35],[-1.0,-0.15],[-0.85,-0.45],[-0.75,-0.1],[-0.65,0.05],[-0.55,-0.25],[-0.5,0.1],[-0.35,0.2],[-0.3,-0.1],[-0.15,0.35],[-0.05,0.15],[0.05,0.5],[0.25,0.5],[0.45,0.75]];
const r31c3 = [[-2,0.5],[-1,0.0],[0,0.77],[0.5,-0.3],[1,0.3],[1.5,-0.6],[2,0.1],[2.5,0.6],[3,-0.2],[3.5,0.4],[4,0.0],[4.5,-0.5],[5.0,0.2],[5.8,0.55],[0,-0.9],[-1.5,-0.4],[1,0.6],[2,-0.8],[3,0.7],[0.5,0.2],
  [0,0.3],[0.5,-0.5],[1,0.0],[1.5,0.5],[0,-0.2],[2.5,0.2]];
const r31c5 = [[0.0,0.5],[0.01,0.2],[0.0,-0.2],[0.02,-0.5],[0.03,0.35],[0.04,-0.73],[0.05,0.0],[0.06,0.45],[0.07,-0.3],[0.08,0.15],[0.1,-0.1],[0.12,0.3],[0.25,0.68],[0.34,0.6],[0.41,0.52],[0.3,0.1],[0.15,-0.15],[0.37,-0.4],[0.45,-0.07],[0.56,-0.23],[0.69,-0.07],[0.73,0.27],[0.8,-0.23],[0.71,-0.27],[0.2,0.0],[0.03,-0.6],
  [0.0,0.1],[0.01,-0.4],[0.02,0.3],[0.03,0.0],[0.05,-0.25],[0.06,0.2],[0.09,-0.45],[0.04,0.55]];
const r31c9 = [[-1.7,0.3],[-1.5,0.1],[-1.4,0.4],[-1.3,-0.2],[-1.2,0.2],[-1.0,0.45],[-0.9,-0.45],[-0.8,0.1],[-0.7,0.35],[-0.6,-0.1],[-0.5,0.5],[-0.4,0.0],[-0.3,-0.65],[-0.2,0.3],[-0.1,-0.2],[0.0,0.15],[0.1,-0.4],[0.2,0.4],[0.3,0.64],[0.4,-0.1],[0.5,0.2],[0.6,-0.5],[0.7,0.5],[0.8,-0.15],[0.9,0.3],[1.0,-0.6],[1.1,0.1],[1.2,-0.3],[1.4,0.2],[1.5,-0.1],[1.7,0.15],[1.84,-0.05],[1.0,0.45],[-1.0,-0.2],
  [-1.1,0.25],[-0.85,0.25],[-0.65,0.15],[-0.45,0.25],[-0.25,0.05],[-0.05,0.35],[0.15,0.05],[0.35,0.3],[0.55,-0.1],[0.75,0.15],[0.95,-0.2],[1.3,-0.1],[0.45,-0.3],[-0.55,-0.3]];
const r41c1 = [[-2.31,-0.23],[-1.9,-0.6],[-1.8,-0.9],[-1.76,-1.1],[-1.7,-0.3],[-1.59,-1.43],[-1.5,-0.7],[-1.4,0.0],[-1.3,-0.5],[-1.2,0.3],[-1.1,-0.8],[-1.0,-0.2],[-0.9,0.5],[-0.8,-0.5],[-0.7,0.1],[-0.6,-0.3],[-0.5,0.6],[-0.4,-0.1],[-0.3,0.4],[-0.2,-0.4],[-0.1,0.2],[0.0,0.8],[0.1,0.0],[0.2,0.5],[0.3,1.0],[0.4,0.3],[0.55,-0.27],[0.6,0.7],[0.7,1.05],[0.8,0.4],[-1.2,0.6],[-0.5,-0.7],
  [-1.6,-0.6],[-1.45,-0.35],[-1.25,-0.2],[-1.15,-0.5],[-0.95,0.1],[-0.85,-0.2],[-0.75,0.35],[-0.65,-0.05],[-0.55,0.25],[-0.45,0.4],[-0.35,0.05],[-0.25,0.6],[-0.15,0.35],[0.05,0.55],[0.15,0.2],[0.35,0.7]];
const r41c2 = [[-2,0.8],[-1,0.2],[0,1.0],[0.5,0.6],[1,0.0],[1.5,0.4],[2,-0.3],[2.5,1.05],[3,0.7],[3.5,0.2],[4,-0.1],[4.5,0.9],[5,0.5],[6,0.8],[7,1.0],[8,1.05],[0,-0.6],[1,-0.9],[-0.5,-1.27],[2,-0.7],[0,-1.1],[-1.5,-0.4],[3,0.4],[1,0.75],
  [0,0.3],[0.5,-0.2],[1,0.5],[1.5,0.9],[2,0.2],[0.5,1.0],[3,1.0],[0,0.6],[1,-0.3],[4,0.6]];
const r41c6 = [[-0.25,1.0],[-0.28,0.5],[-0.25,-0.28],[-0.19,-0.13],[-0.18,0.33],[-0.13,-0.92],[-0.1,0.2],[-0.09,-0.4],[-0.08,0.5],[-0.07,-0.1],[-0.056,-1.05],[-0.05,0.78],[-0.04,-0.6],[-0.03,0.1],[-0.02,-0.3],[-0.01,0.4],[0.0,0.83],[0.0,-0.8],[0.005,-0.2],[0.01,0.1],[0.015,-0.5],[0.02,0.3],[0.025,-1.0],[0.03,0.0],[0.056,-1.03],[0.06,0.72],[-0.06,-0.55],[-0.12,0.0],
  [-0.1,-0.2],[-0.08,0.15],[-0.06,-0.3],[-0.04,0.35],[-0.03,-0.5],[-0.02,0.05],[-0.01,-0.15],[0.0,0.3],[0.01,-0.45],[0.02,0.0],[0.03,-0.7],[-0.05,-0.8]];
const r41c9 = [[-1.52,0.64],[-1.43,-0.09],[-1.2,0.5],[-1.0,0.2],[-0.9,0.7],[-0.8,-0.1],[-0.7,0.4],[-0.6,0.0],[-0.45,-0.73],[-0.4,0.6],[-0.3,0.1],[-0.2,-0.3],[-0.1,0.4],[0.0,0.92],[0.0,-0.99],[0.1,0.0],[0.2,0.5],[0.3,-0.4],[0.4,0.2],[0.5,-0.2],[0.6,0.45],[0.7,-0.5],[0.8,0.0],[0.95,-1.13],[1.0,-0.3],[1.1,0.2],[1.2,-0.6],[1.4,-0.2],[1.59,0.14],[1.7,-0.5],[1.97,-0.92],[0.3,0.8],
  [-1.1,0.35],[-0.85,0.3],[-0.65,0.15],[-0.5,0.3],[-0.35,-0.1],[-0.15,0.15],[0.05,0.35],[0.15,-0.25],[0.25,0.15],[0.35,0.4],[0.45,-0.05],[0.55,0.1],[0.75,-0.2],[0.9,0.2],[0.65,-0.4],[-0.25,0.55]];

const panelPoints = [r11c1, r11c2, r11c9, r11c11, r12c1, r12c2, r12c7, r12c10, r13c1, r13c8, r13c10,
  r14c1, r14c7, r14c10, r15c1, r15c9, r15c10, r16c1, r17c1, r17c5, r17c7, r17c10, r21c1, r21c5,
  r23c1, r23c4, r24c1, r24c9, r25c1, r25c3, r25c4, r31c1, r31c3, r31c5, r31c9, r41c1, r41c2, r41c6, r41c9];

// ---------------- layout ----------------
const FONT = '"Liberation Sans", Arial, Helvetica, sans-serif';
Chart.defaults.font.family = FONT;
Chart.defaults.color = '#000';

const fig = document.getElementById('fig');
const BOX_W = 83, BOX_H = 85, PAD_L = 40, PAD_R = 14, PAD_T = 40, PAD_B = 36;
const STAR_SIZE = 34, STAR_LH = 0.12;
const colLeft = [171, 273, 379, 483, 588, 692, 796, 901, 1005, 1109, 1214, 1318];
const rowTop = regions.map((r, i) => Math.round(33.3 + i * 116.6));

// bottom-most panel of each column gets x tick labels
const lastRow = {};
panelRegion.forEach((r, i) => {
  const c = panelPredictor[i], ri = regions.indexOf(r);
  if (lastRow[c] === undefined || ri > lastRow[c]) lastRow[c] = ri;
});

const boxPlugin = {
  id: 'box',
  afterDraw(chart) {
    const a = chart.chartArea, ctx = chart.ctx;
    ctx.save();
    ctx.strokeStyle = '#000';
    ctx.lineWidth = 2.8;
    ctx.strokeRect(a.left, a.top, a.right - a.left, a.bottom - a.top);
    ctx.restore();
  }
};

function tickGrid() {
  return { display: true, drawOnChartArea: false, drawTicks: true, tickLength: 5, tickWidth: 2.6, tickColor: '#000' };
}

function makePanel(i) {
  const c = panelPredictor[i];
  const ri = regions.indexOf(panelRegion[i]);
  const L = colLeft[c - 1], T = rowTop[ri];
  const W = BOX_W + PAD_L + PAD_R, H = BOX_H + PAD_T + PAD_B;
  const div = document.createElement('div');
  div.className = 'panel';
  div.style.left = (L - PAD_L) + 'px';
  div.style.top = (T - PAD_T) + 'px';
  const cv = document.createElement('canvas');
  cv.width = W; cv.height = H;
  cv.style.width = W + 'px'; cv.style.height = H + 'px';
  div.appendChild(cv);
  fig.appendChild(div);

  const f = panelFit[i];
  const showX = lastRow[c] === ri;
  new Chart(cv, {
    type: 'scatter',
    data: {
      datasets: [
        { data: [[f[0], f[1]], [f[2], f[3]]], showLine: true, borderColor: '#000', borderWidth: 2.6,
          pointRadius: 0, order: 0 },
        { data: panelPoints[i], pointRadius: 2.5, pointBackgroundColor: '#BEBEBE', pointBorderWidth: 0,
          order: 1 }
      ]
    },
    options: {
      responsive: false,
      animation: false,
      events: [],
      layout: { padding: { left: 0, right: PAD_R, top: PAD_T - STAR_SIZE * STAR_LH, bottom: 0 } },
      scales: {
        x: {
          type: 'linear', min: xRange[c - 1][0], max: xRange[c - 1][1],
          afterBuildTicks: s => { s.ticks = xTickValues[c - 1].map(v => ({ value: v })); },
          afterFit: s => { s.height = PAD_B; },
          grid: tickGrid(),
          border: { display: false },
          ticks: { display: showX, autoSkip: false, maxRotation: 0, padding: 2, color: '#000',
                   font: { size: 22 }, callback: (v, k) => xTickText[c - 1][k] }
        },
        y: {
          type: 'linear', min: yRange[0], max: yRange[1],
          afterBuildTicks: s => { s.ticks = yTickValues.map(v => ({ value: v })); },
          afterFit: s => { s.width = PAD_L; },
          grid: tickGrid(),
          border: { display: false },
          ticks: { display: c === 1, autoSkip: false, minRotation: 90, maxRotation: 90, crossAlign: 'center',
                   padding: 5, color: '#000', font: { size: 20 }, callback: (v, k) => yTickText[k] }
        }
      },
      plugins: {
        legend: { display: false },
        tooltip: { enabled: false },
        title: { display: true, text: panelStars[i], align: 'end', fullSize: false, color: '#000',
                 font: { size: STAR_SIZE, weight: 'normal', lineHeight: STAR_LH }, padding: { top: 0, bottom: 0 } }
      }
    },
    plugins: [boxPlugin]
  });
}

for (let i = 0; i < panelPoints.length; i++) makePanel(i);

// ---------------- text ----------------
function addLabel(html, x, y, css, mode) {
  const d = document.createElement('div');
  d.className = 'lab';
  d.innerHTML = html;
  d.style.cssText += css;
  d.style.left = x + 'px';
  d.style.top = y + 'px';
  if (mode === 'rot') {
    d.style.transform = 'translate(-50%, -50%) rotate(-90deg)';
  } else if (mode === 'rotEnd') {
    d.style.transformOrigin = '0 0';
    d.style.transform = 'rotate(-90deg) translate(-100%, -50%)';
  } else {
    d.style.transform = 'translate(-50%, -50%)';
  }
  fig.appendChild(d);
}

regions.forEach((r, i) => addLabel(r, 101, rowTop[i] + BOX_H / 2, 'font-size:36px;', 'rot'));

addLabel('ID', 101, 1590, 'font-size:30px;letter-spacing:3px;', 'rotEnd');
predictors.forEach((p, k) => {
  addLabel(p, colLeft[k] + BOX_W / 2, 1590, 'font-size:30px;font-style:italic;letter-spacing:4.5px;', 'rotEnd');
});

addLabel('Partial effect on log(<i>CHL<sub>t</sub></i> ) for each region', 43, 775, 'font-size:42px;', 'rot');
addLabel('Predictor variable', 781, 1852, 'font-size:41px;', 'plain');
</script>
</body>
</html>
